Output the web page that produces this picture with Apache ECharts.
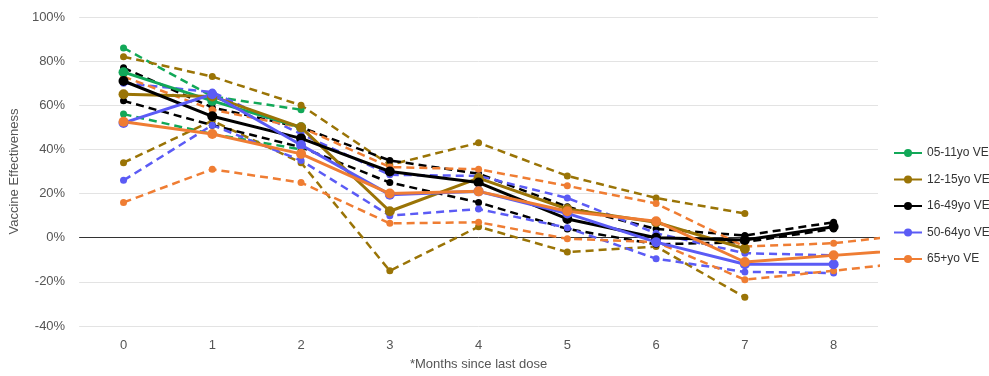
<!DOCTYPE html>
<html>
<head>
<meta charset="utf-8">
<script src="https://cdn.jsdelivr.net/npm/echarts@6/dist/echarts.min.js"></script>
<style>
html,body{margin:0;padding:0;background:#fff;}
#chart{width:989px;height:376px;}
</style>
</head>
<body>
<div id="chart"></div>
<script>
// ---- data ----
const months = [0, 1, 2, 3, 4, 5, 6, 7, 8, 9];
const xTickLabels = ['0', '1', '2', '3', '4', '5', '6', '7', '8'];

const names = ['05-11yo VE', '12-15yo VE', '16-49yo VE', '50-64yo VE', '65+yo VE'];

const ve0511 = [75, 62, 50];
const ve0511Hi = [86, 64, 58];
const ve0511Lo = [56, 47, 40];

const ve1215 = [65, 64, 50, 12, 27, 13, 7, -5];
const ve1215Hi = [82, 73, 60, 33, 43, 28, 18, 11];
const ve1215Lo = [34, 53, 34, -15, 5, -6.5, -4, -27];

const ve1649 = [71, 55, 45, 30, 25, 8.5, 0, -1, 5];
const ve1649Hi = [77, 59, 50, 35, 29, 14, 4, 1, 7];
const ve1649Lo = [62, 51, 41, 25, 16, 4, -3, -2, 4];

const ve5064 = [52, 65, 42, 19.5, 21, 11, -2, -12, -12];
const ve5064Hi = [70, 66, 47, 28.5, 28, 18, 2, -7, -8];
const ve5064Lo = [26, 51, 35, 10, 13, 4.5, -9.5, -15.5, -16];

const ve65 = [52.5, 47, 38, 20, 21, 12, 7.5, -11, -8, -5];
const ve65Hi = [73, 58, 50, 32, 31, 23.5, 15.5, -4, -2.5, 2];
const ve65Lo = [16, 31, 25, 6.5, 7, -0.5, -2, -19, -15, -10.5];

const colors = ['#12a858', '#9a7406', '#000000', '#5b5bf5', '#ef7d33'];

// ---- build ----
function pts(arr) { return arr.map((v, i) => [months[i], v]); }

const groups = [
  [ve0511, ve0511Hi, ve0511Lo],
  [ve1215, ve1215Hi, ve1215Lo],
  [ve1649, ve1649Hi, ve1649Lo],
  [ve5064, ve5064Hi, ve5064Lo],
  [ve65, ve65Hi, ve65Lo]
];

const series = [];
groups.forEach((g, k) => {
  [g[1], g[2]].forEach((arr, j) => {
    series.push({
      name: names[k] + (j === 0 ? ' upper' : ' lower'),
      type: 'line',
      data: pts(arr),
      clip: true,
      symbol: 'circle',
      symbolSize: 7,
      showSymbol: true,
      itemStyle: { color: colors[k] },
      lineStyle: { color: colors[k], width: 2.5, type: [8, 5] },
      emphasis: { disabled: true },
      z: 2
    });
  });
});
groups.forEach((g, k) => {
  series.push({
    name: names[k],
    type: 'line',
    data: pts(g[0]),
    clip: true,
    symbol: 'circle',
    symbolSize: 10,
    itemStyle: { color: colors[k] },
    lineStyle: { color: colors[k], width: 3 },
    emphasis: { disabled: true },
    z: 3
  });
});

const gridColors = ['#e3e3e3', '#e3e3e3', '#333333', '#e3e3e3', '#e3e3e3', '#e3e3e3', '#e3e3e3', '#e3e3e3'];

const chart = echarts.init(document.getElementById('chart'), null, { renderer: 'canvas' });
chart.setOption({
  animation: false,
  backgroundColor: '#ffffff',
  textStyle: { fontFamily: 'Liberation Sans, Arial, sans-serif' },
  grid: { left: 79, right: 111, top: 17, bottom: 46 },
  legend: {
    data: names,
    orient: 'vertical',
    left: 888,
    top: 142,
    itemWidth: 28,
    itemHeight: 10,
    itemGap: 14.5,
    textStyle: { fontSize: 12, color: '#333', fontFamily: 'Liberation Sans, Arial, sans-serif' },
    selectedMode: false
  },
  xAxis: {
    type: 'value',
    min: -0.5,
    max: 8.5,
    splitNumber: 9,
    name: '*Months since last dose',
    nameLocation: 'middle',
    nameGap: 32,
    nameTextStyle: { fontSize: 13, color: '#555' },
    axisLine: { show: false },
    axisTick: { show: false },
    splitLine: { show: false },
    axisLabel: {
      fontSize: 13, color: '#555', margin: 13,
      showMinLabel: false, showMaxLabel: false,
      formatter: v => Number.isInteger(v) && v >= 0 && v < xTickLabels.length ? xTickLabels[v] : ''
    }
  },
  yAxis: {
    type: 'value',
    min: -40,
    max: 100,
    interval: 20,
    name: 'Vaccine Effectiveness',
    nameLocation: 'middle',
    nameGap: 48,
    nameTextStyle: { fontSize: 13, color: '#555' },
    axisLine: { show: false },
    axisTick: { show: false },
    axisLabel: { fontSize: 13, color: '#555', margin: 14, formatter: '{value}%' },
    splitLine: { lineStyle: { color: gridColors, width: 1 } }
  },
  series: series
});
</script>
</body>
</html>
